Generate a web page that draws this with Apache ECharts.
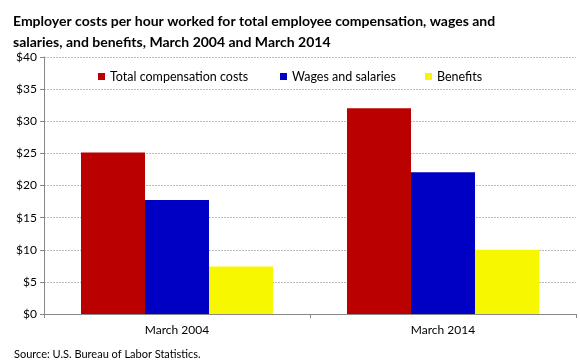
<!DOCTYPE html>
<html><head><meta charset="utf-8">
<script src="https://cdn.jsdelivr.net/npm/echarts@6/dist/echarts.min.js"></script>
<style>html,body{margin:0;padding:0;background:#fff}#c{width:580px;height:360px}</style>
</head><body><div id="c"></div>
<script>
const categories = ['March 2004', 'March 2014'];
const seriesNames = ['Total compensation costs', 'Wages and salaries', 'Benefits'];
const totalComp = [25.15, 32.02];
const wages = [17.75, 22.06];
const benefits = [7.38, 10.0];
const yTicks = [0, 5, 10, 15, 20, 25, 30, 35, 40];

const colors = ['#BB0000', '#0000C4', '#F7F700'];
const values = [totalComp, wages, benefits];
const FONT = 'Lato';

const chart = echarts.init(document.getElementById('c'), null, {renderer: 'canvas'});
const legendLefts = [98, 280, 425];
chart.setOption({
  animation: false,
  textStyle: {fontFamily: FONT},
  title: [{
    text: 'Employer costs per hour worked for total employee compensation, wages and\nsalaries, and benefits, March 2004 and March 2014',
    left: 8, top: 6,
    textStyle: {fontFamily: FONT, fontSize: 14, fontWeight: 'bold', color: '#000', lineHeight: 21}
  }, {
    text: 'Source: U.S. Bureau of Labor Statistics.',
    left: 9, top: 344,
    textStyle: {fontFamily: FONT, fontSize: 11, fontWeight: 'normal', color: '#000'}
  }],
  legend: seriesNames.map((n, i) => ({
    data: [n], left: legendLefts[i], top: 70, padding: 0,
    itemWidth: 7, itemHeight: 7, itemGap: 4,
    icon: 'rect',
    textStyle: {fontFamily: FONT, fontSize: 12.5, color: '#000', padding: [0, 0, 0, 0]}
  })),
  grid: {left: 44, right: 4, top: 57, bottom: 46, containLabel: false},
  xAxis: {
    type: 'category', data: categories,
    axisLine: {lineStyle: {color: '#888'}},
    axisTick: {show: true, length: 4, lineStyle: {color: '#888'}},
    axisLabel: {fontFamily: FONT, fontSize: 12, color: '#000', margin: 10}
  },
  yAxis: {
    type: 'value', min: 0, max: 40, interval: 5,
    axisLine: {show: true, lineStyle: {color: '#888'}},
    axisTick: {show: true, length: 4, lineStyle: {color: '#888'}},
    axisLabel: {fontFamily: FONT, fontSize: 12, color: '#000', margin: 7,
      formatter: v => yTicks.includes(v) ? '$' + v : ''},
    splitLine: {show: true, lineStyle: {color: '#bbb', type: [2, 1], width: 1}}
  },
  series: seriesNames.map((n, i) => ({
    name: n, type: 'bar', data: values[i],
    barWidth: 64, barGap: '0%',
    itemStyle: {color: colors[i]}
  }))
});
</script></body></html>
